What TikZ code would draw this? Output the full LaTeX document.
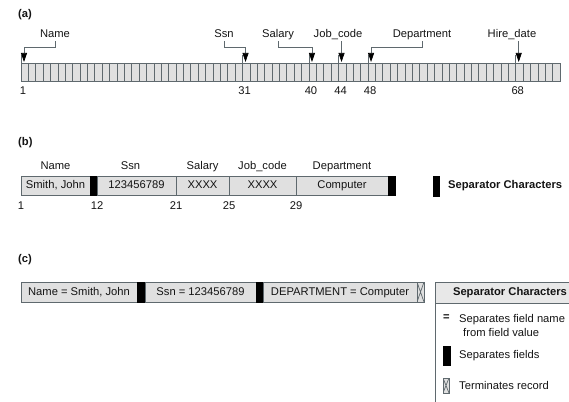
\documentclass[tikz,border=0pt]{standalone}
\usepackage{fontspec}
\setmainfont{Liberation Sans}
\usepackage{xcolor}
\usetikzlibrary{positioning,arrows.meta}
\definecolor{rec-fill}{RGB}{224,224,224}
\definecolor{rec-head}{RGB}{232,232,232}
\definecolor{rec-line}{RGB}{95,105,110}
\definecolor{rec-text}{RGB}{20,20,20}
\newcommand\cellw{7.384}
\tikzset{
    part-label/.style = {font=\fontsize{11.2}{14}\selectfont\bfseries, text=rec-text, inner sep=1pt},
    field-name/.style = {text=rec-text, inner sep=1pt, text height=8pt, text depth=2pt},
    key-text/.style = {text=rec-text, inner sep=1pt},
    key-title/.style = {key-text, font=\fontsize{11.2}{14}\selectfont\bfseries},
    pos-num/.style = {text=rec-text, inner sep=1pt, text height=8pt, text depth=0pt},
    field-box/.style = {draw=rec-line, fill=rec-fill, line width=0.8pt, rectangle, inner sep=0pt, outer sep=0pt, minimum height=19pt, text=rec-text, text height=8pt, text depth=2pt},
    key-head/.style = {field-box, fill=rec-head, font=\fontsize{11.2}{14}\selectfont\bfseries},
    sep-bar/.style = {fill=black, draw=black, rectangle, inner sep=0pt, outer sep=0pt, minimum width=7pt, minimum height=19pt},
    term-mark/.style = {field-box, minimum width=7pt, path picture={
        \draw[rec-line, line width=0.7pt] (path picture bounding box.north west) -- (path picture bounding box.south east)
            (path picture bounding box.north east) -- (path picture bounding box.south west);}},
    cell-line/.style = {draw=rec-line, line width=0.7pt},
    key-frame/.style = {draw=rec-line, line width=0.8pt},
    pointer/.style = {draw=rec-line, line width=0.7pt, -{Triangle[length=9pt,width=6pt,color=black]}},
}

\begin{document}
\begin{tikzpicture}[x=1pt, y=-1pt, font=\fontsize{11.2}{14}\selectfont]
\path[use as bounding box] (0,0) rectangle (569,401);
\clip (0,0) rectangle (569,401);

\node[part-label, anchor=west] (part-a) at (17,15) {(a)};
\node[part-label, anchor=west] (part-b) at (17,143) {(b)};
\node[part-label, anchor=west] (part-c) at (17,260) {(c)};

\node[field-box, anchor=north west, minimum width=539pt, minimum height=18pt] (a-bar) at (21,63) {};
\foreach \i in {1,...,72}
    \draw[cell-line] ({21+\i*\cellw},63) -- ++(0,18);
\foreach \k in {1,31,40,44,48,68} {
    \coordinate (f\k) at ({21+(\k-1)*\cellw+3},62);
    \draw[cell-line] ({21+(\k-1)*\cellw},55) -- ++(0,8);
    \node[pos-num, anchor=north] (n\k) at ({21+(\k-1)*\cellw+2},85) {\k};
}

\node[field-name] (a-name) at (55,35) {Name};
\node[field-name] (a-ssn) at (224,35) {Ssn};
\node[field-name] (a-salary) at (278,35) {Salary};
\node[field-name] (a-job) at (338,35) {Job\_code};
\node[field-name] (a-dept) at (422,35) {Department};
\node[field-name] (a-hire) at (512,35) {Hire\_date};

\draw[pointer] (a-name.south) -- ++(0,6) -| (f1);
\draw[pointer] (a-ssn.south) -- ++(0,6) -| (f31);
\draw[pointer] (a-salary.south) -- ++(0,6) -| (f40);
\draw[pointer] (a-job.south -| f44) -- (f44);
\draw[pointer] (a-dept.south) -- ++(0,6) -| (f48);
\draw[pointer] (a-hire.south -| f68) -- (f68);

\node[field-box, anchor=west, minimum width=69pt] (b1) at (21,185.5) {Smith, John};
\node[sep-bar, right=0pt of b1] (b-sep1) {};
\node[field-box, right=0pt of b-sep1, minimum width=79pt] (b2) {123456789};
\node[field-box, right=0pt of b2, minimum width=53pt] (b3) {XXXX};
\node[field-box, right=0pt of b3, minimum width=67pt] (b4) {XXXX};
\node[field-box, right=0pt of b4, minimum width=92pt] (b5) {Computer};
\node[sep-bar, right=0pt of b5] (b-sep2) {};

\node[field-name, above=3pt of b1] (lbl-b1) {Name};
\node[field-name, above=3pt of b2, xshift=-6pt] (lbl-b2) {Ssn};
\node[field-name, above=3pt of b3] (lbl-b3) {Salary};
\node[field-name, above=3pt of b4] (lbl-b4) {Job\_code};
\node[field-name, above=3pt of b5] (lbl-b5) {Department};

\node[pos-num, below=5pt of b1.south west] (num-b1) {1};
\node[pos-num, below=5pt of b2.south west] (num-b2) {12};
\node[pos-num, below=5pt of b3.south west] (num-b3) {21};
\node[pos-num, below=5pt of b4.south west] (num-b4) {25};
\node[pos-num, below=5pt of b5.south west] (num-b5) {29};

\node[sep-bar, minimum width=6pt, minimum height=20pt] (key-b) at (436,186) {};
\node[key-title, right=8pt of key-b] (key-b-text) {Separator Characters};

\node[field-box, anchor=west, minimum width=116pt, minimum height=20pt] (c1) at (21,292) {Name = Smith, John};
\node[sep-bar, right=0pt of c1, minimum width=8pt, minimum height=20pt] (c-sep1) {};
\node[field-box, right=0pt of c-sep1, minimum width=111pt, minimum height=20pt] (c2) {Ssn = 123456789};
\node[sep-bar, right=0pt of c2, minimum height=20pt] (c-sep2) {};
\node[field-box, right=0pt of c-sep2, minimum width=154pt, minimum height=20pt] (c3) {DEPARTMENT = Computer};
\node[term-mark, right=0pt of c3, minimum height=20pt] (c-end) {};

\node[key-head, anchor=north west, minimum width=150pt, minimum height=21pt] (key-c) at (435,282) {Separator Characters};
\coordinate (key-c-foot) at (435,402);
\draw[key-frame] (key-c.south west) -- (key-c-foot);

\node[key-text] (key-eq) at (446.5,318) {\textbf{=}};
\node[key-text, anchor=west, align=left] (key-eq-text) at (458,325) {Separates field name\\\hspace*{4pt}from field value};
\node[sep-bar, minimum height=19pt] (key-sep) at (446.5,356) {};
\node[key-text, right=8pt of key-sep] (key-sep-text) {Separates fields};
\node[term-mark, minimum width=6pt, minimum height=15pt] (key-term) at (446,385.5) {};
\node[key-text, right=9pt of key-term] (key-term-text) {Terminates record};
\end{tikzpicture}
\end{document}
